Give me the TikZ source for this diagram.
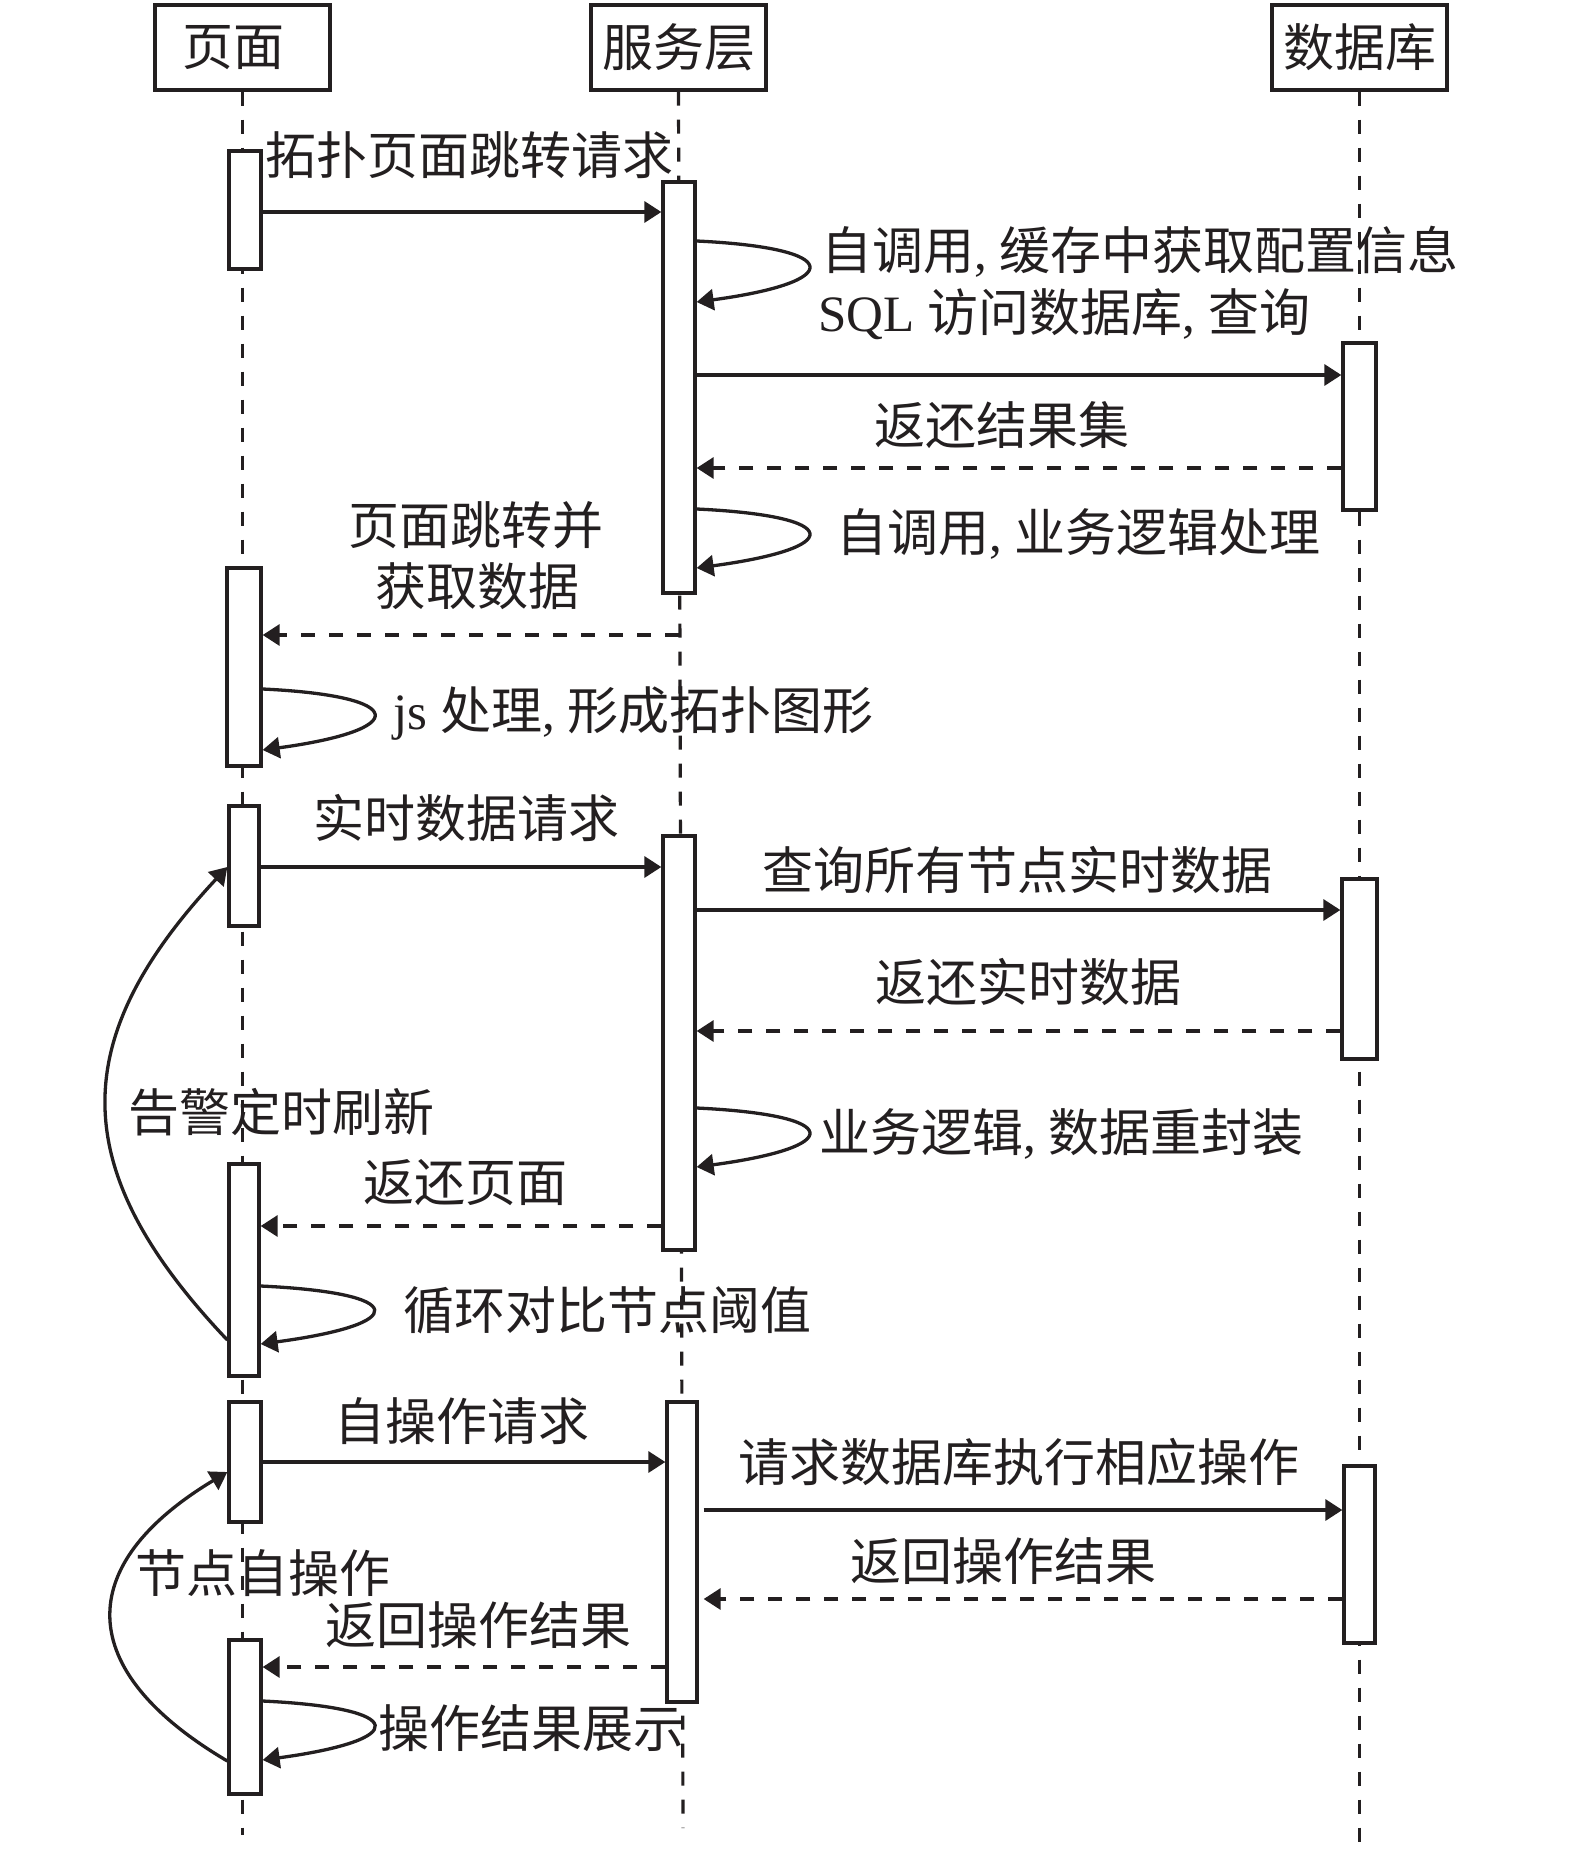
\documentclass[tikz,border=0pt]{standalone}
\usepackage{fontspec}
\setmainfont{Liberation Serif}
\newfontfamily\cjk{Noto Sans CJK SC}
\usetikzlibrary{arrows.meta,fit}
\newcommand\latpart[1]{{\rmfamily #1}}
\definecolor{ink}{HTML}{231F20}
\begin{document}
\begin{tikzpicture}[x=0.5pt,y=-0.5pt,
  every node/.style={font=\fontsize{25.5}{30}\selectfont\cjk, text=ink, inner sep=0pt},
  head/.style={draw=ink, line width=1.65pt, minimum width=87.5pt, minimum height=42.5pt},
  act/.style={draw=ink, fill=white, line width=1.65pt},
  life/.style={draw=ink, line width=1.6pt, dash pattern=on 7pt off 7pt},
  msg/.style={draw=ink, line width=1.65pt, -{Triangle[length=8.5pt,width=10.5pt]}},
  ret/.style={msg, dash pattern=on 7pt off 7pt},
]
\useasboundingbox (0,0) rectangle (1575,1852);

% headers
\node[head] (pg) at (242.5,47.5) {\hspace*{-9.5pt}页面};
\node[head] (srv) at (678.5,47.5) {服务层};
\node[head] (db) at (1359.5,47.5) {数据库};

% lifelines
\draw[life] (pg.south) -- (pg.south |- 0,1835);
\draw[life] (srv.south) -- (683,1828);
\draw[life] (db.south) -- (db.south |- 0,1848);

% activation boxes
\node[act, fit={(229,151) (261,269)}] (p1) {};
\node[act, fit={(227,568) (261,766)}] (p2) {};
\node[act, fit={(229,806) (259,926)}] (p3) {};
\node[act, fit={(229,1164) (259,1376)}] (p4) {};
\node[act, fit={(229,1402) (261,1522)}] (p5) {};
\node[act, fit={(229,1640) (261,1794)}] (p6) {};
\node[act, fit={(663,182) (695,593)}] (s1) {};
\node[act, fit={(663,836) (695,1250)}] (s2) {};
\node[act, fit={(667,1402) (697,1702)}] (s3) {};
\node[act, fit={(1343,343) (1376,510)}] (d1) {};
\node[act, fit={(1342,879) (1377,1059)}] (d2) {};
\node[act, fit={(1344,1466) (1375,1643)}] (d3) {};

% messages
\draw[msg] (p1.east |- 0,212) -- (s1.west |- 0,212);
\draw[msg] (s1.east |- 0,375) -- (d1.west |- 0,375);
\draw[ret] (d1.west |- 0,468) -- (s1.east |- 0,468);
\draw[ret] (srv.south |- 0,635) -- (p2.east |- 0,635);
\draw[msg] (p3.east |- 0,867) -- (s2.west |- 0,867);
\draw[msg] (s2.east |- 0,910) -- (d2.west |- 0,910);
\draw[ret] (d2.west |- 0,1031) -- (s2.east |- 0,1031);
\draw[ret] (s2.west |- 0,1226) -- (p4.east |- 0,1226);
\draw[msg] (p5.east |- 0,1462) -- (s3.west |- 0,1462);
\draw[msg, shorten <=2.5pt] (s3.east |- 0,1510) -- (d3.west |- 0,1510);
\draw[ret, shorten >=2.5pt] (d3.west |- 0,1599) -- (s3.east |- 0,1599);
\draw[ret] (s3.west |- 0,1667) -- (p6.east |- 0,1667);

% self calls
\draw[msg] (s1.east |- 0,241) .. controls (845,248) and (845,282) .. (s1.east |- 0,302);
\draw[msg] (s1.east |- 0,509) .. controls (845,516) and (845,548) .. (s1.east |- 0,568);
\draw[msg] (s2.east |- 0,1108) .. controls (845,1115) and (845,1147) .. (s2.east |- 0,1167);
\draw[msg] (p2.east |- 0,689) .. controls (410,696) and (410,730) .. (p2.east |- 0,750);
\draw[msg] (p4.east |- 0,1286) .. controls (410,1293) and (410,1324) .. (p4.east |- 0,1344);
\draw[msg] (p6.east |- 0,1701) .. controls (410,1708) and (410,1740) .. (p6.east |- 0,1760);

% loops back
\draw[msg] (p4.west |- 0,1340) .. controls (66,1170) and (66,1040) .. (p3.west |- 0,867);
\draw[msg] (p6.west |- 0,1761) .. controls (73,1670) and (73,1565) .. (p5.west |- 0,1472);

% labels
\node (l1) at (469,155) {拓扑页面跳转请求};
\node[anchor=west] (l2) at (821,252) {自调用\latpart{, }缓存中获取配置信息};
\node[anchor=west] (l3) at (818,314) {\latpart{SQL }访问数据库\latpart{, }查询};
\node (l4) at (1002,425) {返还结果集};
\node[anchor=west] (l5) at (836,534) {自调用\latpart{, }业务逻辑处理};
\node (l6) at (476,525) {页面跳转并};
\node (l7) at (477,586) {获取数据};
\node[anchor=west] (l8) at (393,713) {\latpart{js }处理\latpart{, }形成拓扑图形};
\node (l9) at (466,818) {实时数据请求};
\node (l10) at (1017,870) {查询所有节点实时数据};
\node (l11) at (1028,982) {返还实时数据};
\node[anchor=west] (l12) at (819,1134) {业务逻辑\latpart{, }数据重封装};
\node (l13) at (465,1183) {返还页面};
\node[anchor=west] (l14) at (403,1310) {循环对比节点阈值};
\node (l15) at (281,1112) {告警定时刷新};
\node (l16) at (462,1421) {自操作请求};
\node (l17) at (1019,1462) {请求数据库执行相应操作};
\node (l18) at (1003,1561) {返回操作结果};
\node (l19) at (478,1625) {返回操作结果};
\node[anchor=west] (l20) at (378,1728) {操作结果展示};
\node (l21) at (263,1573) {节点自操作};
\end{tikzpicture}
\end{document}
